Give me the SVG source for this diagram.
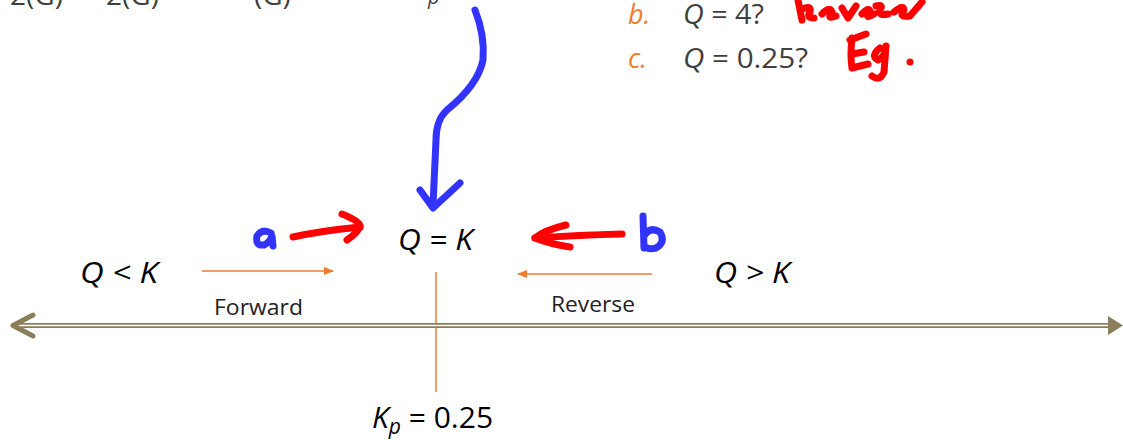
<svg xmlns="http://www.w3.org/2000/svg" width="1123" height="440" viewBox="0 0 1123 440">
<style>
.t{font-family:"Open Sans","Liberation Sans",sans-serif;}
.it{font-style:italic;}
.big{font-size:30px;fill:#000;}
.lbl{font-size:22px;fill:#222;}
.gray{font-size:27px;fill:#404040;}
.org{fill:#ED7D31;font-style:italic;font-size:27px;}
.ol{stroke:#ED7D31;stroke-width:1.5;fill:none;}
.red{stroke:#FF0000;stroke-width:7;fill:none;stroke-linecap:round;stroke-linejoin:round;}
.blue{stroke:#3333FF;stroke-width:7;fill:none;stroke-linecap:round;stroke-linejoin:round;}
</style>
<defs>
<marker id="oa" markerWidth="10" markerHeight="8" refX="9" refY="4" orient="auto" markerUnits="userSpaceOnUse">
<path d="M0,0 L10,4 L0,8 Z" fill="#ED7D31"/>
</marker>
</defs>
<rect width="1123" height="440" fill="#fff"/>

<g id="top-fragments" class="t" fill="#404040" font-size="28">
<text x="10" y="5">2(G)</text>
<text x="106" y="5">2(G)</text>
<text x="254" y="5">(G)</text>
<text x="428" y="4" class="it" font-size="20">p</text>
</g>

<g id="questions" class="t">
<text x="628" y="24" class="org">b.</text>
<text x="683" y="24" class="gray" textLength="81" lengthAdjust="spacingAndGlyphs"><tspan class="it">Q</tspan> = 4?</text>
<text x="628" y="68" class="org">c.</text>
<text x="683" y="68" class="gray" textLength="125" lengthAdjust="spacingAndGlyphs"><tspan class="it">Q</tspan> = 0.25?</text>
</g>

<g id="handwriting">
<path class="red" d="M798,0 L802,20 M800,10 Q812,4 810,12 Q806,18 814,18 M822,14 Q830,6 832,12 Q826,20 836,16 M842,8 L848,18 L856,6 M862,14 Q870,6 870,12 Q864,20 874,14 M876,6 Q884,4 880,10 Q878,16 888,14 M894,12 Q904,4 904,10 Q898,18 910,16 L922,2"/>
<path class="red" d="M852,38 Q850,55 852,68 M850,40 L866,34 M852,54 L864,52 M852,68 L868,64 M880,48 Q870,56 878,60 Q886,56 886,46 L884,72 Q880,82 872,76"/>
<circle cx="910" cy="62" r="3.5" fill="#FF0000"/>
</g>

<g id="blue-arrow">
<path class="blue" d="M475,10 Q485,35 483,60 Q478,85 447,110 Q436,120 436,140 L433,205"/>
<path class="blue" d="M420,190 L433,208 L460,183"/>
</g>

<g id="node-a">
<path class="red" d="M293,237 Q320,231 360,227"/>
<path class="red" d="M342,214 Q362,222 360,227 Q356,234 347,240"/>
<path class="blue" stroke-width="5" d="M271,233 Q262,228 257,236 Q255,246 264,245 Q270,242 272,236 L273,246"/>
</g>

<g id="node-b">
<path class="red" d="M622,234 Q580,235 535,238"/>
<path class="red" d="M566,225 Q545,230 535,238 Q550,244 570,247"/>
<path class="blue" stroke-width="5" d="M643,216 L644,248 M644,236 Q650,226 660,232 Q666,242 656,248 Q648,250 644,246"/>
</g>

<g id="node-qk-eq" class="t">
<text x="398" y="250" class="big it" textLength="75" lengthAdjust="spacingAndGlyphs">Q = K</text>
</g>
<g id="node-qk-less" class="t">
<text x="80" y="283" class="big it" textLength="78" lengthAdjust="spacingAndGlyphs">Q &lt; K</text>
</g>
<g id="node-qk-greater" class="t">
<text x="714" y="283" class="big it" textLength="76" lengthAdjust="spacingAndGlyphs">Q &gt; K</text>
</g>
<g id="node-kp" class="t">
<text x="372" y="428" class="big"><tspan class="it">K</tspan><tspan class="it" font-size="21" dy="6">p</tspan><tspan dy="-6"> = 0.25</tspan></text>
</g>

<g id="connectors">
<line class="ol" x1="202" y1="271" x2="333" y2="271" marker-end="url(#oa)"/>
<line class="ol" x1="652" y1="274" x2="518" y2="274" marker-end="url(#oa)"/>
<line class="ol" x1="436" y1="272" x2="436" y2="392"/>
<line x1="14" y1="325.5" x2="1112" y2="325.5" stroke="#8C7E5A" stroke-width="5"/>
<line x1="14" y1="325.5" x2="1112" y2="325.5" stroke="#fff" stroke-width="1.5"/>
<path d="M33,315 L13,325.5 L33,336" stroke="#8C7E5A" stroke-width="5" fill="none" stroke-linecap="round" stroke-linejoin="round"/>
<path d="M1108,316 L1123,325.5 L1108,335 Z" fill="#8C7E5A"/>
</g>

<g id="labels" class="t">
<text x="214" y="315" class="lbl" textLength="89" lengthAdjust="spacingAndGlyphs">Forward</text>
<text x="551" y="312" class="lbl" textLength="84" lengthAdjust="spacingAndGlyphs">Reverse</text>
</g>
</svg>
